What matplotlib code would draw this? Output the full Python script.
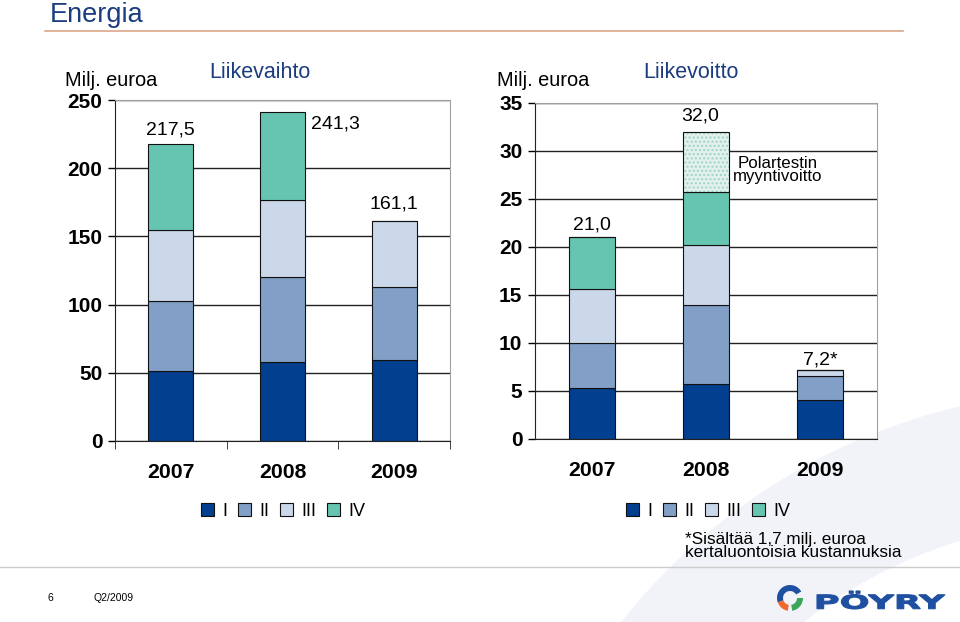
import matplotlib
matplotlib.use("Agg")
import matplotlib.pyplot as plt
from matplotlib.patches import Patch, Wedge, PathPatch
from matplotlib.textpath import TextPath
from matplotlib.font_manager import FontProperties
from matplotlib.transforms import Affine2D

plt.rcParams['font.family'] = ['Liberation Sans', 'DejaVu Sans']

# data
years = ['2007', '2008', '2009']
quarters = ['I', 'II', 'III', 'IV']

# Liikevaihto, milj. euroa
lv_q1 = [51.3, 58.2, 59.6]
lv_q2 = [51.6, 61.8, 53.1]
lv_q3 = [51.5, 56.9, 48.4]
lv_q4 = [63.1, 64.4, 0.0]
lv_labels = ['217,5', '241,3', '161,1']

# Liikevoitto, milj. euroa
lo_q1 = [5.3, 5.7, 4.1]
lo_q2 = [4.7, 8.2, 2.5]
lo_q3 = [5.6, 6.3, 0.6]
lo_q4 = [5.4, 5.5, 0.0]
lo_polartest = [0.0, 6.3, 0.0]
lo_labels = ['21,0', '32,0', '7,2*']

q_colors = ['#023f8f', '#819fc7', '#cbd8ea', '#66c5b0']
navy = '#1b3c7e'

W, H = 960, 622
fig = plt.figure(figsize=(9.6, 6.22), dpi=100)


def px(xp, yp):
    # pixel position -> figure fraction
    return xp / W, 1 - yp / H


# background layer in pixel coordinates (y downwards)
bg = fig.add_axes([0, 0, 1, 1], zorder=-5)
bg.set_xlim(0, W)
bg.set_ylim(H, 0)
bg.axis('off')

# faint swoosh
bg.add_patch(Wedge((1100, 1000), 610, 205, 268, width=130, color='#f1f3f8', lw=0))
bg.add_patch(Wedge((1100, 1000), 330, 215, 265, width=60, color='#f3f5f9', lw=0))

bg.text(50, 15, 'Energia', fontsize=19.5, color=navy, va='center', ha='left')
bg.plot([45, 903], [31, 31], color='#dba68a', lw=1.2)
bg.plot([0, W], [567, 567], color='#cccccc', lw=1)
bg.text(48, 598, '6', fontsize=7.5, va='center')
bg.text(93, 598, 'Q2/2009', fontsize=7.5, va='center')

# logo
bg.add_patch(Wedge((790, 598), 13, 160, 330, width=6, color='#1e4fa0', lw=0))
bg.add_patch(Wedge((790, 598), 13, 100, 160, width=6, color='#ef6a2c', lw=0))
bg.add_patch(Wedge((790, 598), 13, 0, 80, width=6, color='#3aa65a', lw=0))
tp = TextPath((0, 0), 'PÖYRY', size=10, prop=FontProperties(family='DejaVu Sans', weight='bold'))
ext = tp.get_extents()
tr = Affine2D().translate(-ext.x0, -ext.y0).scale(128 / ext.width, -18 / ext.height).translate(817, 609)
bg.add_patch(PathPatch(tr.transform_path(tp), color='#1e4fa0', lw=0.8))

x = range(len(years))
bw = 0.4


def style_axis(ax, top, step):
    ax.set_xlim(-0.5, 2.5)
    ax.set_ylim(0, top)
    ax.set_yticks(range(0, top + 1, step))
    ax.set_xticks(list(x))
    ax.set_xticklabels(years, fontsize=15.3, fontweight='bold')
    ax.tick_params(axis='x', length=0, pad=16)
    ax.tick_params(axis='y', labelsize=15, length=5, width=1, pad=4)
    for lab in ax.get_yticklabels():
        lab.set_fontweight('bold')
    ax.yaxis.grid(True, color='#222222', lw=1)
    ax.set_axisbelow(True)
    for s in ['top', 'right']:
        ax.spines[s].set_color('#a0a0a0')
    for s in ['left', 'bottom']:
        ax.spines[s].set_color('#222222')
    ax.set_facecolor('white')


# Liikevaihto
ax1 = fig.add_axes([115 / W, 1 - 441 / H, 335 / W, 341 / H])
bottom = [0.0] * 3
for vals, c in zip([lv_q1, lv_q2, lv_q3, lv_q4], q_colors):
    ax1.bar(x, vals, bw, bottom=bottom, color=c, edgecolor='#111111', lw=0.8)
    bottom = [b + v for b, v in zip(bottom, vals)]
lv_tot = bottom
style_axis(ax1, 250, 50)
ax1.set_xticks([-0.5, 0.5, 1.5, 2.5], minor=True)
ax1.tick_params(axis='x', which='minor', length=6, color='#222222', direction='out')
ax1.annotate(lv_labels[0], (0, lv_tot[0]), xytext=(0, 14), textcoords='offset pixels',
             ha='center', va='center', fontsize=14)
ax1.annotate(lv_labels[1], (1 + bw / 2, lv_tot[1]), xytext=(6, -12), textcoords='offset pixels',
             ha='left', va='center', fontsize=14)
ax1.annotate(lv_labels[2], (2, lv_tot[2]), xytext=(0, 17), textcoords='offset pixels',
             ha='center', va='center', fontsize=14)

# Liikevoitto
ax2 = fig.add_axes([535 / W, 1 - 439 / H, 342 / W, 336.3 / H])
bottom = [0.0] * 3
for vals, c in zip([lo_q1, lo_q2, lo_q3, lo_q4], q_colors):
    ax2.bar(x, vals, bw, bottom=bottom, color=c, edgecolor='#111111', lw=0.8)
    bottom = [b + v for b, v in zip(bottom, vals)]
ax2.bar(x, lo_polartest, bw, bottom=bottom, color='#e2f1ee', edgecolor='#9fd3c6',
        hatch='....', lw=0)
ax2.bar(x, lo_polartest, bw, bottom=bottom, fill=False, edgecolor='#111111', lw=0.8)
lo_tot = [b + p for b, p in zip(bottom, lo_polartest)]
style_axis(ax2, 35, 5)
offs2 = [(0, 12), (-6, 16), (0, 10)]
for i, (dx, dy) in enumerate(offs2):
    ax2.annotate(lo_labels[i], (i, lo_tot[i]), xytext=(dx, dy), textcoords='offset pixels',
                 ha='center', va='center', fontsize=14)

# axis captions and titles
fig.text(*px(65, 80), 'Milj. euroa', fontsize=14.4, va='center')
fig.text(*px(260, 73), 'Liikevaihto', fontsize=15.5, va='center', ha='center', color=navy)
fig.text(*px(497, 80), 'Milj. euroa', fontsize=14.4, va='center')
fig.text(*px(691, 73), 'Liikevoitto', fontsize=15.5, va='center', ha='center', color=navy)
fig.text(*px(778, 170), 'Polartestin\nmyyntivoitto', fontsize=12.2, ha='center', va='center',
         linespacing=0.8)
fig.text(*px(685, 546), '*Sisältää 1,7 milj. euroa\nkertaluontoisia kustannuksia', fontsize=12.3,
         ha='left', va='center', linespacing=0.8)

handles = [Patch(facecolor=c, edgecolor='#111111', lw=0.8) for c in q_colors]
for x0 in (201, 626):
    fig.legend(handles, quarters, loc='center left', bbox_to_anchor=px(x0, 511),
               ncol=4, frameon=False, fontsize=13, handlelength=0.72, handleheight=0.72,
               handletextpad=0.45, columnspacing=0.6, borderpad=0, borderaxespad=0)

fig.savefig('out.png', dpi=100, facecolor='white')
